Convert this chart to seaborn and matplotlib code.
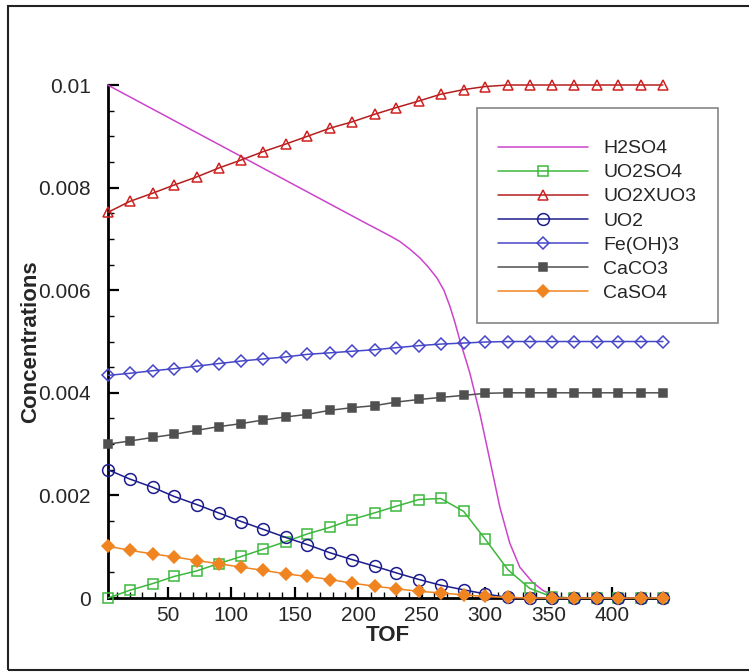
import seaborn as sns
import pandas as pd
import matplotlib.pyplot as plt
from matplotlib.patches import Rectangle
from matplotlib.ticker import MultipleLocator

# marker positions (TOF) shared by the marked series
tof = [3, 20, 38, 55, 73, 90, 108, 125, 143, 160, 178, 195, 213,
       230, 248, 265, 283, 300, 318, 335, 353, 370, 388, 405, 423, 440]

uo2so4 = [0.0, 0.00015, 0.00028, 0.00042, 0.00053, 0.00067, 0.00081, 0.00095,
          0.00110, 0.00125, 0.00138, 0.00153, 0.00166, 0.00179, 0.00192, 0.00194,
          0.00169, 0.00115, 0.00055, 0.00019, 0.00002, 0.0, 0.0, 0.0, 0.0, 0.0]
uo2xuo3 = [0.00752, 0.00773, 0.00789, 0.00805, 0.00821, 0.00838, 0.00854, 0.00870,
           0.00885, 0.00900, 0.00916, 0.00928, 0.00943, 0.00956, 0.00969, 0.00982,
           0.00991, 0.00997, 0.0100, 0.0100, 0.0100, 0.0100, 0.0100, 0.0100, 0.0100, 0.0100]
uo2 = [0.00250, 0.00232, 0.00216, 0.00198, 0.00182, 0.00166, 0.00149, 0.00134,
       0.00118, 0.00104, 0.00088, 0.00075, 0.00062, 0.00049, 0.00036, 0.00025,
       0.00016, 0.00008, 0.00001, 0.0, 0.0, 0.0, 0.0, 0.0, 0.0, 0.0]
feoh3 = [0.00434, 0.00438, 0.00443, 0.00447, 0.00452, 0.00457, 0.00462, 0.00466,
         0.00470, 0.00475, 0.00478, 0.00481, 0.00484, 0.00488, 0.00492, 0.00495,
         0.00497, 0.00499, 0.0050, 0.0050, 0.0050, 0.0050, 0.0050, 0.0050, 0.0050, 0.0050]
caco3 = [0.00300, 0.00306, 0.00313, 0.00319, 0.00327, 0.00334, 0.00340, 0.00347,
         0.00353, 0.00358, 0.00366, 0.00371, 0.00375, 0.00382, 0.00387, 0.00391,
         0.00395, 0.00399, 0.0040, 0.0040, 0.0040, 0.0040, 0.0040, 0.0040, 0.0040, 0.0040]
caso4 = [0.00101, 0.00093, 0.00086, 0.00080, 0.00073, 0.00067, 0.00060, 0.00054,
         0.00047, 0.00042, 0.00036, 0.00029, 0.00023, 0.00018, 0.00013, 0.00010,
         0.00006, 0.00003, 0.00001, 0.0, 0.0, 0.0, 0.0, 0.0, 0.0, 0.0]

# H2SO4 has no markers, own sampling
tof_h2so4 = [2.7, 205, 215, 225, 232.8, 240.7, 248.6, 254.9, 262, 267.5, 272.2, 276.1,
             280, 287.9, 295.8, 303.7, 311.6, 319.4, 327.3, 337.6, 345.4, 354.9, 362.8, 440]
h2so4 = [0.0100, 0.00732, 0.00719, 0.00706, 0.00695, 0.00680, 0.00663, 0.00646,
         0.00624, 0.00600, 0.00569, 0.00538, 0.00503, 0.00439, 0.0036, 0.00269,
         0.00177, 0.00107, 0.0006, 0.0003, 0.00015, 0.00003, 0.0, 0.0]

sns.set_style("ticks")
plt.rcParams['font.family'] = ['Liberation Sans', 'DejaVu Sans']

fig = plt.figure(figsize=(7.49, 6.72), dpi=100)
ax = fig.add_axes([0.1438, 0.1101, 0.748, 0.7634])

common = dict(ax=ax, clip_on=False, zorder=3, linewidth=1.1, markeredgewidth=1.1)

sns.lineplot(x=tof_h2so4, y=h2so4, color="#cc44cc", label="H2SO4", ax=ax,
             clip_on=False, zorder=3, linewidth=1.1)
sns.lineplot(x=tof, y=uo2so4, color="#3cb83c", marker="s", markersize=6.5,
             markerfacecolor="none", markeredgecolor="#3cb83c", label="UO2SO4", **common)
sns.lineplot(x=tof, y=uo2xuo3, color="#b41e1e", marker="^", markersize=7.5,
             markerfacecolor="none", markeredgecolor="#d02020", label="UO2XUO3", **common)
sns.lineplot(x=tof, y=uo2, color="#1c1c8c", marker="o", markersize=8.5,
             markerfacecolor="none", markeredgecolor="#1c1c8c", label="UO2", **common)
sns.lineplot(x=tof, y=feoh3, color="#4646c8", marker="D", markersize=6.5,
             markerfacecolor="none", markeredgecolor="#4646c8", label="Fe(OH)3", **common)
sns.lineplot(x=tof, y=caco3, color="#505050", marker="s", markersize=5.8,
             markerfacecolor="#505050", markeredgecolor="#505050", label="CaCO3", **common)
sns.lineplot(x=tof, y=caso4, color="#f08420", marker="D", markersize=6.5,
             markerfacecolor="#f08420", markeredgecolor="#f08420", label="CaSO4", **common)

ax.set_xlim(2.7, 444)
ax.set_ylim(0, 0.01)
ax.set_xticks([50, 100, 150, 200, 250, 300, 350, 400])
ax.xaxis.set_minor_locator(MultipleLocator(10))
ax.set_yticks([0, 0.002, 0.004, 0.006, 0.008, 0.01])
ax.set_yticklabels(["0", "0.002", "0.004", "0.006", "0.008", "0.01"])
ax.yaxis.set_minor_locator(MultipleLocator(0.0005))

ax.tick_params(which="major", direction="in", length=8, width=1.6,
               labelsize=15, color="black")
ax.tick_params(which="minor", direction="in", length=4, width=1.0, color="black")
ax.tick_params(axis="y", which="major", pad=12)
ax.tick_params(axis="x", which="major", pad=6)

for side in ["top", "right"]:
    ax.spines[side].set_visible(False)
for side in ["left", "bottom"]:
    ax.spines[side].set_linewidth(2.0)
    ax.spines[side].set_color("black")

ax.set_xlabel("TOF", fontsize=16, fontweight="bold")
ax.set_ylabel("Concentrations", fontsize=16, fontweight="bold")
ax.xaxis.set_label_coords(0.5, -0.052)
ax.yaxis.set_label_coords(-0.118, 0.5)

leg = ax.legend(loc="upper left", bbox_to_anchor=(477 / 749, 1 - 108 / 672),
                bbox_transform=fig.transFigure, fontsize=14, frameon=True,
                fancybox=False, borderaxespad=0, borderpad=1.1,
                handlelength=4.6, handletextpad=0.8, labelspacing=0.33,
                title=" ", title_fontsize=2)
leg.get_frame().set_edgecolor("#666666")
leg.get_frame().set_linewidth(1.2)

fig.patches.append(Rectangle((8 / 749, 0.003), 1.0, 0.988, transform=fig.transFigure,
                             fill=False, edgecolor="#222222", linewidth=1.5))

fig.savefig("out.png", dpi=100)
